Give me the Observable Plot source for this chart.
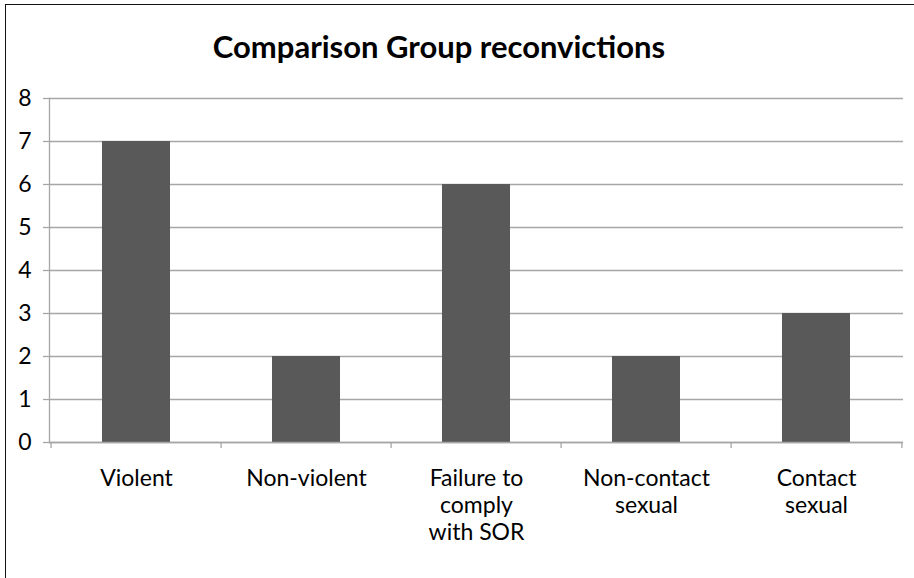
<!DOCTYPE html>
<html>
<head>
<meta charset="utf-8">
<script src="https://cdn.jsdelivr.net/npm/d3@7"></script>
<script src="https://cdn.jsdelivr.net/npm/@observablehq/plot@0.6"></script>
<style>
  html, body { margin: 0; padding: 0; background: #fff; }
  #wrap { position: relative; width: 914px; height: 578px; overflow: hidden; font-family: Lato, "Open Sans", sans-serif; }
  #border { position: absolute; left: 5px; top: 4px; width: 940px; height: 600px; border-top: 1.6px solid #111; border-left: 1.6px solid #111; pointer-events: none; }
  #title { position: relative; height: 80px; }
  #title span { position: absolute; left: 439px; top: 31px; transform: translateX(-50%); white-space: nowrap; font-weight: 700; font-size: 31px; line-height: 1; color: #000; }
  #chart svg { display: block; }
</style>
</head>
<body>
<div id="wrap">
  <div id="title"><span>Comparison Group reconvictions</span></div>
  <div id="chart"></div>
  <div id="border"></div>
</div>
<script>
const categories = ["Violent", "Non-violent", "Failure to comply with SOR", "Non-contact sexual", "Contact sexual"];
const values = [7, 2, 6, 2, 3];
const tickLabels = ["Violent", "Non-violent", "Failure to\ncomply\nwith SOR", "Non-contact\nsexual", "Contact\nsexual"];
const yTicks = [0, 1, 2, 3, 4, 5, 6, 7, 8];

const data = categories.map((c, i) => ({category: c, value: values[i]}));
const labelOf = new Map(categories.map((c, i) => [c, tickLabels[i]]));

const W = 914, H = 498, ML = 49, MR = 11, MT = 18, MB = 136;
const step = (W - ML - MR) / categories.length;
const grid = "#a6a6a6";
const FS = 23;

const chart = Plot.plot({
  width: W,
  height: H,
  marginLeft: ML,
  marginRight: MR,
  marginTop: MT,
  marginBottom: MB,
  style: {fontFamily: "Lato, 'Open Sans', sans-serif", fontSize: FS + "px", color: "#000", background: "#fff"},
  x: {domain: categories, paddingInner: 0.6, paddingOuter: 0.3, label: null},
  y: {domain: [0, 8], label: null},
  marks: [
    Plot.ruleY(yTicks, {stroke: grid, strokeWidth: 1.3}),
    Plot.barY(data, {x: "category", y: "value", fill: "#595959"}),
    Plot.ruleY([0], {stroke: grid, strokeWidth: 1.3}),
    Plot.frame({anchor: "left", stroke: grid, strokeWidth: 1.3}),
    Plot.axisY({ticks: yTicks, tickSize: 6, tickPadding: 12, stroke: grid, strokeWidth: 1.3, fill: "#000", fontSize: FS, label: null}),
    Plot.axisX({tickSize: 0, tickPadding: 25, tickFormat: d => labelOf.get(d), lineHeight: 1.16, fill: "#000", fontSize: FS, label: null}),
    Plot.axisX({tickSize: 6, text: null, dx: -step / 2, stroke: grid, strokeWidth: 1.3, label: null}),
    Plot.axisX({ticks: [categories[categories.length - 1]], tickSize: 6, text: null, dx: step / 2, stroke: grid, strokeWidth: 1.3, label: null})
  ]
});
document.getElementById("chart").appendChild(chart);
</script>
</body>
</html>
